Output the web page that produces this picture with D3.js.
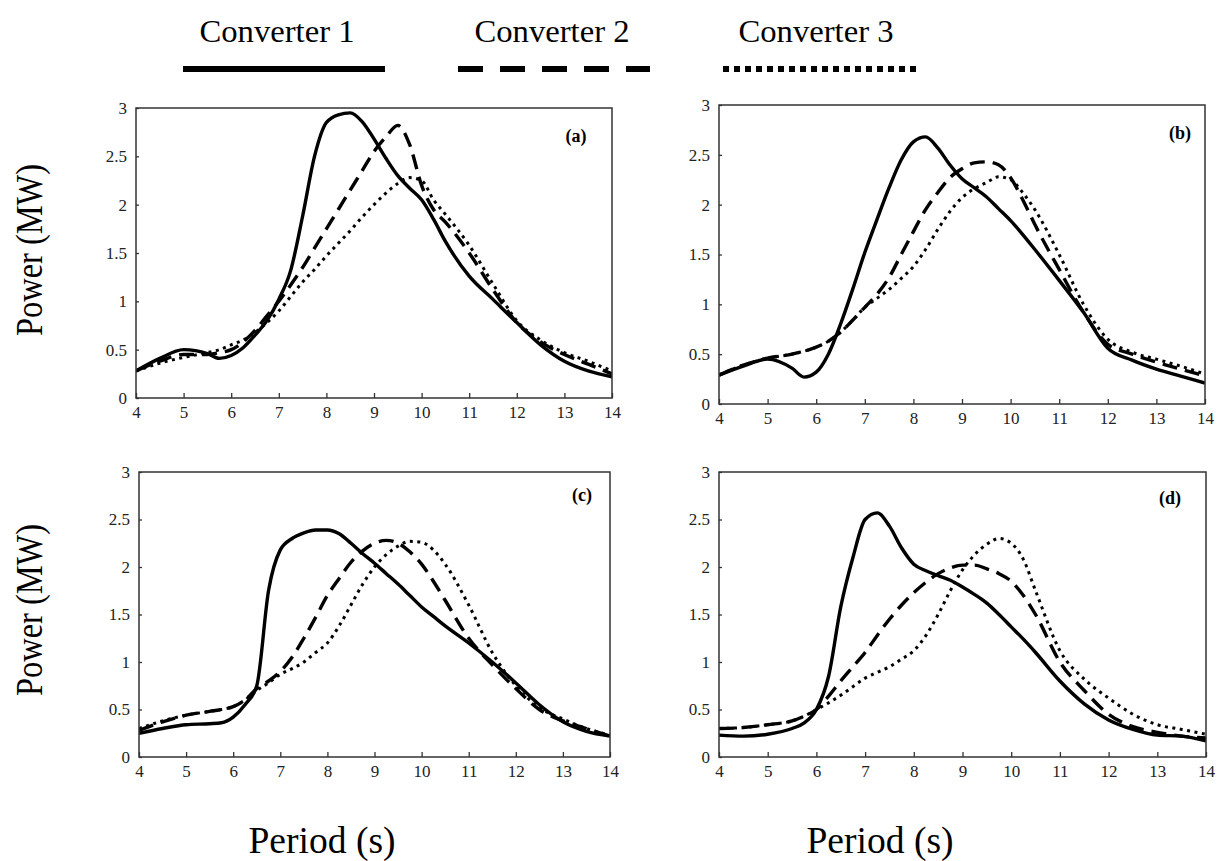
<!DOCTYPE html>
<html>
<head>
<meta charset="utf-8">
<script src="https://d3js.org/d3.v7.min.js"></script>
<style>
  body { margin: 0; background: #fff; }
  svg { display: block; font-family: "Liberation Serif", "DejaVu Serif", serif; }
  .tick line { stroke: #333; stroke-width: 1.3; }
  .domain { display: none; }
</style>
</head>
<body>
<svg id="chart" width="1219" height="861"></svg>
<script>
// wave period (s) sampled for every curve
var period = [4, 4.5, 5, 5.5, 5.75, 6, 6.25, 6.5, 6.75, 7, 7.25, 7.5, 7.75, 8, 8.25, 8.5, 8.75,
              9, 9.25, 9.5, 9.75, 10, 10.25, 10.5, 11, 11.5, 12, 12.5, 13, 13.5, 14];

var converters = ["Converter 1", "Converter 2", "Converter 3"];
var panelNames = ["(a)", "(b)", "(c)", "(d)"];

// power (MW), panel (a)
var a1 = [0.28,0.41,0.5,0.46,0.41,0.44,0.52,0.65,0.8,1.02,1.32,1.88,2.5,2.85,2.93,2.95,2.86,2.68,2.48,2.3,2.17,2.05,1.85,1.62,1.26,1.02,0.78,0.55,0.38,0.28,0.22];
var a2 = [0.28,0.38,0.45,0.45,0.47,0.5,0.58,0.7,0.85,1.0,1.17,1.35,1.55,1.75,1.95,2.15,2.35,2.55,2.7,2.82,2.62,2.2,1.95,1.82,1.5,1.12,0.78,0.58,0.45,0.35,0.25];
var a3 = [0.28,0.36,0.42,0.47,0.5,0.55,0.6,0.68,0.78,0.9,1.05,1.2,1.33,1.47,1.6,1.73,1.87,2.0,2.12,2.22,2.28,2.25,2.05,1.9,1.58,1.18,0.8,0.6,0.47,0.38,0.28];
// panel (b)
var b1 = [0.29,0.38,0.45,0.36,0.27,0.32,0.5,0.8,1.15,1.52,1.85,2.17,2.45,2.63,2.68,2.57,2.4,2.26,2.17,2.08,1.96,1.84,1.7,1.55,1.24,0.92,0.56,0.44,0.35,0.28,0.21];
var b2 = [0.29,0.39,0.46,0.5,0.53,0.57,0.63,0.72,0.84,0.97,1.1,1.27,1.5,1.73,1.95,2.12,2.27,2.36,2.42,2.43,2.4,2.27,2.05,1.8,1.35,0.92,0.6,0.5,0.42,0.35,0.28];
var b3 = [0.29,0.39,0.46,0.5,0.53,0.57,0.63,0.72,0.84,0.97,1.06,1.15,1.26,1.38,1.55,1.75,1.93,2.07,2.16,2.22,2.28,2.25,2.12,1.95,1.5,1.0,0.65,0.52,0.45,0.38,0.3];
// panel (c)
var c1 = [0.25,0.3,0.34,0.35,0.36,0.42,0.55,0.75,1.75,2.18,2.3,2.36,2.39,2.39,2.35,2.25,2.14,2.04,1.93,1.82,1.7,1.58,1.48,1.38,1.2,1.0,0.78,0.55,0.37,0.27,0.22];
var c2 = [0.28,0.37,0.44,0.48,0.5,0.53,0.6,0.72,0.8,0.9,1.05,1.25,1.47,1.7,1.88,2.05,2.17,2.25,2.28,2.25,2.16,2.03,1.85,1.65,1.25,0.97,0.72,0.5,0.38,0.3,0.22];
var c3 = [0.3,0.38,0.44,0.48,0.5,0.53,0.6,0.7,0.78,0.87,0.93,1.0,1.1,1.2,1.38,1.6,1.82,2.0,2.13,2.22,2.27,2.26,2.18,2.03,1.6,1.1,0.75,0.52,0.4,0.3,0.23];
// panel (d)
var d1 = [0.23,0.22,0.24,0.3,0.36,0.5,0.85,1.58,2.1,2.5,2.57,2.43,2.2,2.03,1.96,1.91,1.86,1.79,1.71,1.62,1.5,1.37,1.24,1.1,0.8,0.56,0.39,0.29,0.23,0.22,0.17];
var d2 = [0.3,0.31,0.34,0.38,0.43,0.5,0.64,0.8,0.95,1.1,1.28,1.45,1.6,1.73,1.84,1.93,1.99,2.02,2.02,1.98,1.93,1.85,1.7,1.5,1.0,0.7,0.45,0.32,0.26,0.22,0.2];
var d3v = [0.3,0.31,0.34,0.38,0.43,0.5,0.57,0.65,0.74,0.83,0.89,0.95,1.03,1.12,1.28,1.5,1.75,1.97,2.13,2.24,2.3,2.25,2.08,1.75,1.12,0.82,0.62,0.45,0.34,0.29,0.24];

var xTicks = [4, 5, 6, 7, 8, 9, 10, 11, 12, 13, 14];
var yTicks = [0, 0.5, 1, 1.5, 2, 2.5, 3];

var series = [[a1, a2, a3], [b1, b2, b3], [c1, c2, c3], [d1, d2, d3v]];

// plot frames and label spots
var frames = [
  { left: 136, right: 612,  top: 108, bottom: 398, lx: 576,  ly: 138 },
  { left: 719, right: 1205, top: 105, bottom: 404, lx: 1180, ly: 135 },
  { left: 139, right: 610,  top: 472, bottom: 757, lx: 582,  ly: 497 },
  { left: 719, right: 1206, top: 472, bottom: 757, lx: 1170, ly: 500 }
];

var styles = [
  { width: 3.4, dash: null },
  { width: 3.4, dash: "15,8" },
  { width: 3, dash: "3,4.5" }
];

var svg = d3.select("#chart");

function serifTicks(g) {
  g.attr("font-family", "Liberation Serif, serif").attr("font-size", 17);
  g.selectAll(".tick text").attr("fill", "#222");
}

frames.forEach(function(f, i) {
  var x = d3.scaleLinear().domain([4, 14]).range([f.left, f.right]);
  var y = d3.scaleLinear().domain([0, 3]).range([f.bottom, f.top]);

  svg.append("clipPath").attr("id", "clip" + i)
    .append("rect")
      .attr("x", f.left).attr("y", f.top - 4)
      .attr("width", f.right - f.left).attr("height", f.bottom - f.top + 4);

  svg.append("g")
      .attr("transform", "translate(0," + f.bottom + ")")
      .call(d3.axisBottom(x).tickValues(xTicks).tickSizeInner(-5).tickSizeOuter(0).tickPadding(11))
      .call(serifTicks)
    .selectAll("text").attr("dy", "0.5em");

  svg.append("g")
      .attr("transform", "translate(" + f.left + ",0)")
      .call(d3.axisLeft(y).tickValues(yTicks).tickFormat(d3.format("~g"))
              .tickSizeInner(-3).tickSizeOuter(0).tickPadding(9))
      .call(serifTicks);

  var line = d3.line()
      .x(function(d, k) { return x(period[k]); })
      .y(function(d) { return y(d); })
      .curve(d3.curveMonotoneX);

  var g = svg.append("g").attr("clip-path", "url(#clip" + i + ")");
  series[i].forEach(function(s, j) {
    g.append("path")
      .datum(s)
      .attr("d", line)
      .attr("fill", "none")
      .attr("stroke", "#000")
      .attr("stroke-width", styles[j].width)
      .attr("stroke-dasharray", styles[j].dash)
      .attr("stroke-linejoin", "round");
  });

  svg.append("rect")
    .attr("x", f.left).attr("y", f.top)
    .attr("width", f.right - f.left).attr("height", f.bottom - f.top)
    .attr("fill", "none").attr("stroke", "#333").attr("stroke-width", 1.5);

  svg.append("text")
    .attr("x", f.lx).attr("y", f.ly)
    .attr("text-anchor", "middle")
    .attr("dominant-baseline", "middle")
    .style("font-weight", "bold")
    .style("font-size", "18px")
    .text(panelNames[i]);
});

// legend on top
var legend = [
  { tx: 277, x0: 183, x1: 385 },
  { tx: 552, x0: 458, x1: 650 },
  { tx: 816, x0: 723, x1: 920 }
];
legend.forEach(function(l, j) {
  svg.append("text")
    .attr("x", l.tx).attr("y", 42)
    .attr("text-anchor", "middle")
    .attr("textLength", 155).attr("lengthAdjust", "spacingAndGlyphs")
    .style("font-size", "32px")
    .text(converters[j]);
  svg.append("line")
    .attr("x1", l.x0).attr("x2", l.x1)
    .attr("y1", 69).attr("y2", 69)
    .attr("stroke", "#000")
    .attr("stroke-width", 6)
    .attr("stroke-dasharray", j == 1 ? "25,17" : (j == 2 ? "6,5" : null));
});

// axis titles
[250, 610].forEach(function(cy) {
  svg.append("text")
    .attr("transform", "translate(42," + cy + ") rotate(-90)")
    .attr("text-anchor", "middle")
    .attr("textLength", 172).attr("lengthAdjust", "spacingAndGlyphs")
    .style("font-size", "38px")
    .text("Power (MW)");
});
[322, 880].forEach(function(cx) {
  svg.append("text")
    .attr("x", cx).attr("y", 853)
    .attr("text-anchor", "middle")
    .attr("textLength", 147).attr("lengthAdjust", "spacingAndGlyphs")
    .style("font-size", "37px")
    .text("Period (s)");
});
</script>
</body>
</html>
